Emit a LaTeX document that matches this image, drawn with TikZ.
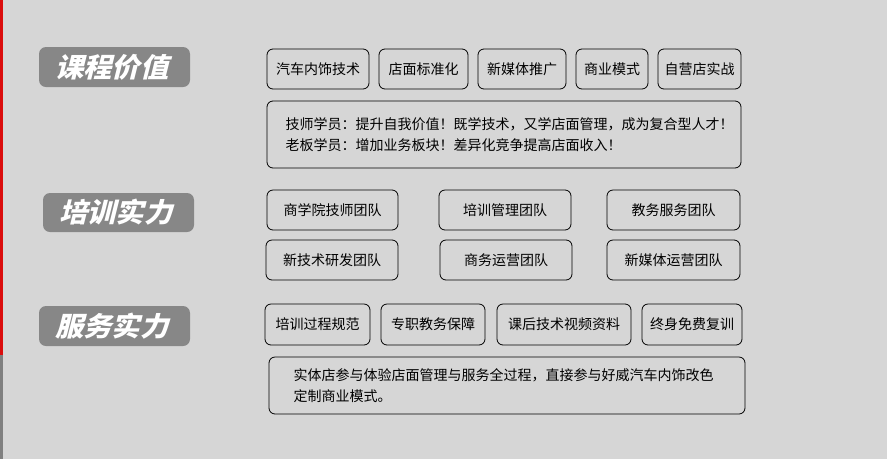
\documentclass[tikz,border=0pt]{standalone}
\usepackage{fontspec}
\setmainfont{Noto Sans CJK SC}
\begin{document}
\begin{tikzpicture}[x=1pt,y=-1pt,
 bx/.style={draw=black,line width=0.8pt,rounded corners=6pt,fill=none}]
\useasboundingbox (0,0) rectangle (887,459);
\fill[black!16] (0,0) rectangle (887,459);
\fill[red!85!black!95] (0,0) rectangle (3,355);
\fill[gray] (0,355) rectangle (3,459);
\tikzset{ttlbox/.style={fill=black!47,rounded corners=7pt}}
\newcommand\tbox[5]{\fill[ttlbox] (#1,#2) rectangle (#3,#4); \node[text=white,font=\fontsize{27}{29}\selectfont\bfseries,xslant=0.25,xscale=1.05] (t#2) at ({(#1+#3)/2},{(#2+#4)/2}) {#5};}
\tbox{39}{47}{190}{87}{课程价值}
\tbox{43}{193}{194}{232}{培训实力}
\tbox{39}{306}{190}{346}{服务实力}
\newcommand\bb[6]{\draw[bx] (#1,#2) rectangle (#3,#4); \node[font=\fontsize{14}{16}\selectfont] (#6) at ({(#1+#3)/2},{(#2+#4)/2}) {#5};}
\bb{267}{49}{369}{89}{汽车内饰技术}{a1}
\bb{379}{49}{468}{89}{店面标准化}{a2}
\bb{478}{49}{566}{89}{新媒体推广}{a3}
\bb{576}{49}{648}{89}{商业模式}{a4}
\bb{658}{49}{741}{89}{自营店实战}{a5}
\draw[bx] (267,101) rectangle (741,168);
\node[anchor=west,align=left,font=\fontsize{14}{17}\selectfont] (d1) at (282,134.5) {技师学员：提升自我价值！既学技术，又学店面管理，成为复合型人才！\\[4pt]老板学员：增加业务板块！差异化竞争提高店面收入！};
\bb{267}{190}{398}{230}{商学院技师团队}{b1}
\bb{439}{190}{571}{230}{培训管理团队}{b2}
\bb{607}{190}{740}{230}{教务服务团队}{b3}
\bb{266}{240}{398}{280}{新技术研发团队}{b4}
\bb{440}{240}{572}{280}{商务运营团队}{b5}
\bb{607}{240}{740}{280}{新媒体运营团队}{b6}
\bb{265}{304}{370}{345}{培训过程规范}{c1}
\bb{381}{304}{485}{345}{专职教务保障}{c2}
\bb{497}{304}{631}{345}{课后技术视频资料}{c3}
\bb{642}{304}{742}{345}{终身免费复训}{c4}
\draw[bx] (269,357) rectangle (745,414);
\node[anchor=west,align=left,font=\fontsize{14}{17}\selectfont] (d2) at (290,385.5) {实体店参与体验店面管理与服务全过程，直接参与好威汽车内饰改色\\[4pt]定制商业模式。};
\end{tikzpicture}
\end{document}
